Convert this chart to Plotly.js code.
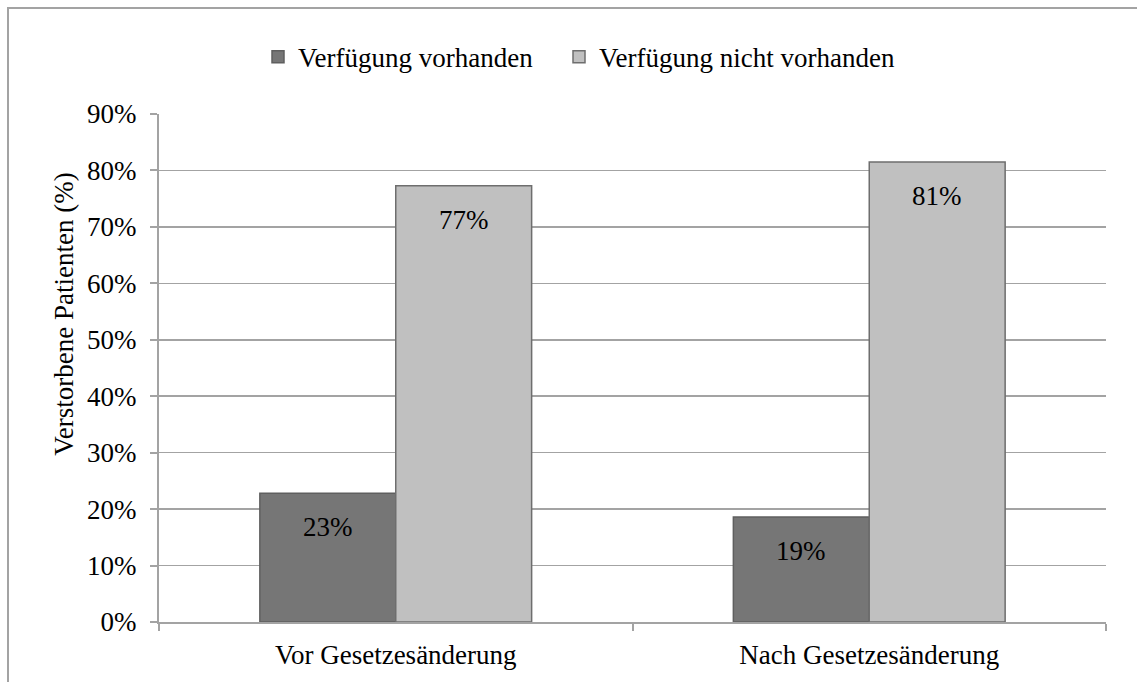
<!DOCTYPE html>
<html>
<head>
<meta charset="utf-8">
<script src="https://cdn.plot.ly/plotly-3.0.1.min.js"></script>
<style>
  html, body { margin: 0; padding: 0; background: #ffffff; }
  #frame { position: absolute; left: 7px; top: 7px; width: 1300px; height: 900px;
           border-top: 2px solid #a3a3a3; border-left: 2px solid #a3a3a3; }
  #chart { position: absolute; left: 0; top: 0; width: 1137px; height: 682px; }
</style>
</head>
<body>
<div id="frame"></div>
<div id="chart"></div>
<script>
// ---- data ----
const categories = ['Vor Gesetzesänderung', 'Nach Gesetzesänderung'];
const seriesNames = ['Verfügung vorhanden', 'Verfügung nicht vorhanden'];
const vorhanden = [22.8, 18.6];
const nichtVorhanden = [77.3, 81.5];
const labelsVorhanden = ['23%', '19%'];
const labelsNichtVorhanden = ['77%', '81%'];
const yTickValues = [0, 10, 20, 30, 40, 50, 60, 70, 80, 90];
const yTickLabels = ['0%', '10%', '20%', '30%', '40%', '50%', '60%', '70%', '80%', '90%'];
const yTitle = 'Verstorbene Patienten (%)';

// ---- styling ----
const FONT = '"Liberation Serif", "Times New Roman", serif';
const AXIS = '#a3a3a3';
const W = 1137, H = 682;
const margin = { l: 159, r: 31, t: 114, b: 60 };
const bargap = 0.426;

const plotW = W - margin.l - margin.r;
const slot = plotW / categories.length;
const barW = slot * (1 - bargap) / 2;
const txt = { family: FONT, size: 27, color: '#000000' };

const traces = [
  {
    type: 'bar', name: seriesNames[0], x: categories, y: vorhanden, legend: 'legend',
    marker: { color: '#767676', line: { color: '#5f5f5f', width: 1.5 } },
    hoverinfo: 'skip'
  },
  {
    type: 'bar', name: seriesNames[1], x: categories, y: nichtVorhanden, legend: 'legend2',
    marker: { color: '#c0c0c0', line: { color: '#6e6e6e', width: 1.5 } },
    hoverinfo: 'skip'
  }
];

const annotations = [];
const allVals = [vorhanden, nichtVorhanden];
const allLabels = [labelsVorhanden, labelsNichtVorhanden];
allVals.forEach((vals, i) => {
  vals.forEach((v, j) => {
    annotations.push({
      x: categories[j], y: v, xref: 'x', yref: 'y',
      text: allLabels[i][j], showarrow: false,
      xshift: (i === 0 ? -1 : 1) * barW / 2, yshift: -34,
      yanchor: 'middle', xanchor: 'center', font: txt
    });
  });
});
annotations.push({
  text: yTitle, textangle: -90, showarrow: false,
  xref: 'paper', yref: 'paper', x: (64 - margin.l) / plotW, y: 0.605,
  xanchor: 'center', yanchor: 'middle', font: txt
});

const legendBase = {
  orientation: 'h', xanchor: 'left', y: 1.112, yanchor: 'middle', font: txt,
  bgcolor: 'rgba(0,0,0,0)', itemclick: false, itemdoubleclick: false
};

const layout = {
  width: W, height: H, margin: margin,
  paper_bgcolor: 'rgba(0,0,0,0)', plot_bgcolor: 'rgba(0,0,0,0)',
  barmode: 'group', bargap: bargap, bargroupgap: 0,
  font: txt,
  showlegend: true,
  legend: Object.assign({}, legendBase, { x: (258 - margin.l) / plotW }),
  legend2: Object.assign({}, legendBase, { x: (559 - margin.l) / plotW }),
  xaxis: {
    type: 'category', range: [-0.5, categories.length - 0.5],
    showline: true, linecolor: AXIS, linewidth: 2,
    ticks: 'outside', tickson: 'boundaries', ticklen: 7, tickcolor: AXIS, tickwidth: 2,
    ticklabelstandoff: 8,
    showgrid: false, zeroline: false, fixedrange: true, tickfont: txt
  },
  yaxis: {
    range: [0, 90], tickmode: 'array', tickvals: yTickValues, ticktext: yTickLabels,
    showline: true, linecolor: AXIS, linewidth: 2,
    ticks: 'outside', ticklen: 7, tickcolor: AXIS, tickwidth: 2,
    ticklabelstandoff: 8,
    showgrid: true, gridcolor: AXIS, gridwidth: 1.5, zeroline: false, fixedrange: true,
    tickfont: txt
  },
  annotations: annotations
};

Plotly.newPlot('chart', traces, layout, { displayModeBar: false, staticPlot: true });
</script>
</body>
</html>
